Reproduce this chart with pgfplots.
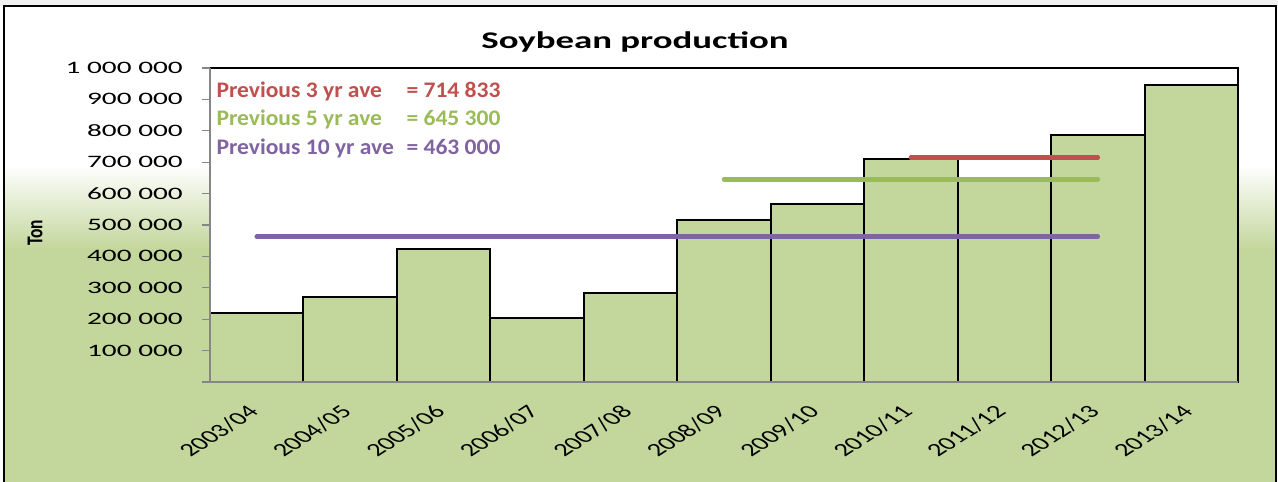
\documentclass[border=0pt]{standalone}
\usepackage{pgfplots}
\pgfplotsset{compat=1.18}
\usepackage{fontspec}
\setmainfont{Carlito}
\newfontfamily\tickfont[FakeStretch=1.68]{Carlito}
\newfontfamily\titlefont[FakeStretch=1.54]{Carlito}
\newfontfamily\annfont[FakeStretch=1.06]{Carlito}
\definecolor{barfill}{RGB}{195,214,155}
\definecolor{avered}{RGB}{192,80,77}
\definecolor{avegreen}{RGB}{155,187,89}
\definecolor{avepurple}{RGB}{128,100,162}
\definecolor{axgray}{RGB}{134,134,134}

\pgfplotstableread{
x y
0 220000
1 272000
2 424000
3 204000
4 282000
5 516000
6 566000
7 710000
8 648500
9 786000
10 947000
}\production

\begin{document}
\begin{tikzpicture}
% background (pixel-like coordinates: x right, y down)
\begin{scope}[x=1bp,y=-1bp,shift={(-210bp,382bp)}]
 \fill[white] (0,0) rectangle (1278,482);
 \fill[black!6] (0,0) rectangle (1278,6);
 \fill[white] (4,6) rectangle (1276,166);
 \fill[barfill] (4,249.5) rectangle (1276,482);
\end{scope}
\shade[top color=white, bottom color=barfill] (-206bp,132bp) rectangle (1066bp,217bp);
\begin{scope}[x=1bp,y=-1bp,shift={(-210bp,382bp)}]
 \draw[black, line width=2bp] (4,482) -- (4,6) -- (1276,6) -- (1276,482);
 \node[anchor=base, font=\titlefont\bfseries\fontsize{24}{28}\selectfont] at (635,48.3) {Soybean production};
 \node[xscale=1.3, rotate=90, font=\bfseries\fontsize{17.5}{20}\selectfont] at (35,233) {Ton};
\end{scope}

\begin{axis}[at={(0,0)}, anchor=south west, scale only axis,
 width=1028bp, height=314bp,
 xmin=-0.5, xmax=10.5, ymin=0, ymax=1000000,
 axis background/.style={fill=white},
 axis line style={draw=none},
 clip=false,
 tick pos=left,
 xtick={0,1,2,3,4,5,6,7,8,9,10},
 xticklabels={2003/04,2004/05,2005/06,2006/07,2007/08,2008/09,2009/10,2010/11,2011/12,2012/13,2013/14},
 major x tick style={draw=none},
 ytick={0,100000,200000,300000,400000,500000,600000,700000,800000,900000,1000000},
 yticklabels={,100 000,200 000,300 000,400 000,500 000,600 000,700 000,800 000,900 000,1 000 000},
 scaled y ticks=false,
 tick align=outside, major tick length=8bp,
 major y tick style={axgray, line width=1.2bp},
 yticklabel style={font=\tickfont\fontsize{17.5}{20}\selectfont, anchor=east, inner sep=0pt, xshift=-19bp},
 xticklabel style={font=\fontsize{18.5}{21}\selectfont, anchor=north east, inner sep=0pt, yshift=-14bp, xshift=-11bp, xscale=1.55, rotate=45},
]
\addplot[ybar, bar width=1, fill=barfill, draw=black, line width=2bp] table[x=x,y=y] {\production};
\addplot[avepurple, line width=4.5bp, line cap=round] coordinates {(0,463000) (9,463000)};
\addplot[avegreen, line width=4.5bp, line cap=round] coordinates {(5,645300) (9,645300)};
\addplot[avered, line width=4.5bp, line cap=round] coordinates {(7,714833) (9,714833)};
\draw[black, line width=2bp] (rel axis cs:0,1) -- (rel axis cs:1,1) -- (rel axis cs:1,0);
\draw[axgray, line width=2bp] (rel axis cs:0,1) -- (rel axis cs:0,0) -- (rel axis cs:1,0);
\end{axis}

\begin{scope}[x=1bp,y=-1bp,shift={(-210bp,382bp)}]
 \node[anchor=base west, text=avered, font=\annfont\bfseries\fontsize{22.3}{26}\selectfont] at (213,97.7) {Previous 3 yr ave};
 \node[anchor=base west, text=avered, font=\annfont\bfseries\fontsize{22.3}{26}\selectfont] at (403,97.7) {= 714 833};
 \node[anchor=base west, text=avegreen, font=\annfont\bfseries\fontsize{22.3}{26}\selectfont] at (213,125.9) {Previous 5 yr ave};
 \node[anchor=base west, text=avegreen, font=\annfont\bfseries\fontsize{22.3}{26}\selectfont] at (403,125.9) {= 645 300};
 \node[anchor=base west, text=avepurple, font=\annfont\bfseries\fontsize{22.3}{26}\selectfont] at (213,154.3) {Previous 10 yr ave};
 \node[anchor=base west, text=avepurple, font=\annfont\bfseries\fontsize{22.3}{26}\selectfont] at (403,154.3) {= 463 000};
\end{scope}
\pgfresetboundingbox
\path[use as bounding box] (-210bp,-100bp) rectangle (1068bp,382bp);
\end{tikzpicture}
\end{document}
